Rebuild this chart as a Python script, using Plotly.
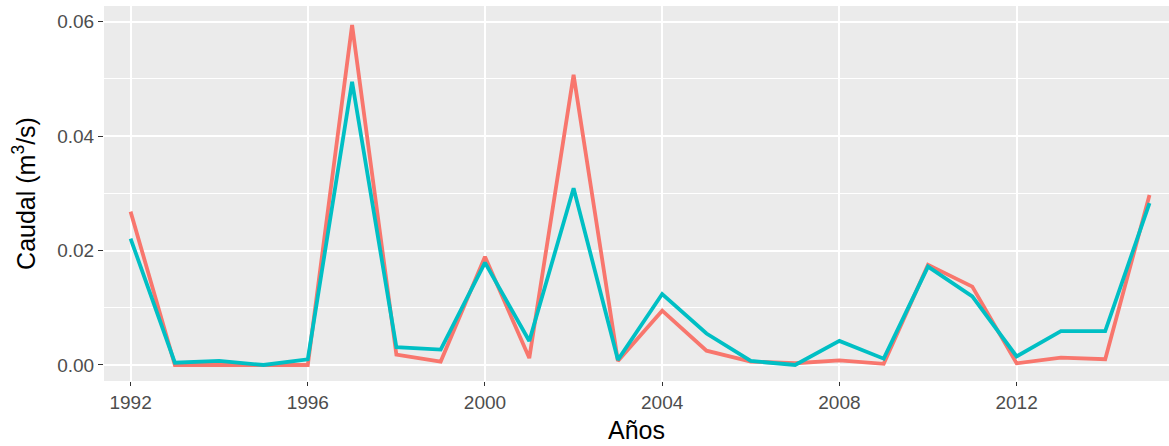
import plotly.graph_objects as go

years = list(range(1992, 2016))
serie_roja = [0.0268, 0.0000, 0.0000, 0.0000, 0.0000, 0.0594, 0.0018, 0.0006,
              0.0189, 0.0012, 0.0507, 0.0007, 0.0095, 0.0025, 0.0006, 0.0003,
              0.0008, 0.0002, 0.0175, 0.0137, 0.0003, 0.0013, 0.0010, 0.0297]
serie_cian = [0.0221, 0.0004, 0.0007, 0.0000, 0.0010, 0.0495, 0.0031, 0.0027,
              0.0179, 0.0042, 0.0309, 0.0009, 0.0124, 0.0055, 0.0007, 0.0000,
              0.0042, 0.0011, 0.0172, 0.0120, 0.0015, 0.0059, 0.0059, 0.0283]
x_ticks = [1992, 1996, 2000, 2004, 2008, 2012]
y_ticks = [0.00, 0.02, 0.04, 0.06]
y_tick_labels = ["0.00", "0.02", "0.04", "0.06"]

fig = go.Figure()
fig.add_trace(go.Scatter(x=years, y=serie_roja, mode="lines",
                         line=dict(color="#F8766D", width=3.8), showlegend=False))
fig.add_trace(go.Scatter(x=years, y=serie_cian, mode="lines",
                         line=dict(color="#00BFC4", width=3.8), showlegend=False))

font_family = "Liberation Sans, Arial, sans-serif"
fig.update_layout(
    width=1169, height=446,
    margin=dict(l=104, r=0, t=6, b=65),
    paper_bgcolor="white",
    plot_bgcolor="#EBEBEB",
    font=dict(family=font_family),
    showlegend=False,
)
fig.update_xaxes(
    range=[1991.40, 2015.44],
    tickvals=x_ticks, ticktext=[str(v) for v in x_ticks],
    showgrid=True, gridcolor="white", gridwidth=1.5,
    zeroline=False, showline=False,
    ticks="outside", ticklen=4, tickwidth=1.2, tickcolor="#333333",
    tickfont=dict(size=19, color="#4D4D4D", family=font_family),
    title=dict(text="Años", font=dict(size=25, color="black", family=font_family), standoff=9),
    automargin=False,
)
fig.update_yaxes(
    range=[-0.0028, 0.06274],
    tickvals=y_ticks, ticktext=y_tick_labels,
    showgrid=True, gridcolor="white", gridwidth=1.5,
    minor=dict(tickvals=[0.01, 0.03, 0.05], showgrid=True, gridcolor="white", gridwidth=0.8, ticks=""),
    zeroline=False, showline=False,
    ticks="outside", ticklen=5, tickwidth=1.2, tickcolor="#333333",
    tickfont=dict(size=19, color="#4D4D4D", family=font_family),
    title=dict(text="Caudal (m<sup>3</sup>/s)", font=dict(size=25, color="black", family=font_family), standoff=14),
    automargin=False,
)

fig.write_html("out.html", config={"displayModeBar": False},
               post_script="document.body.style.margin='0';document.body.style.overflow='hidden';")
